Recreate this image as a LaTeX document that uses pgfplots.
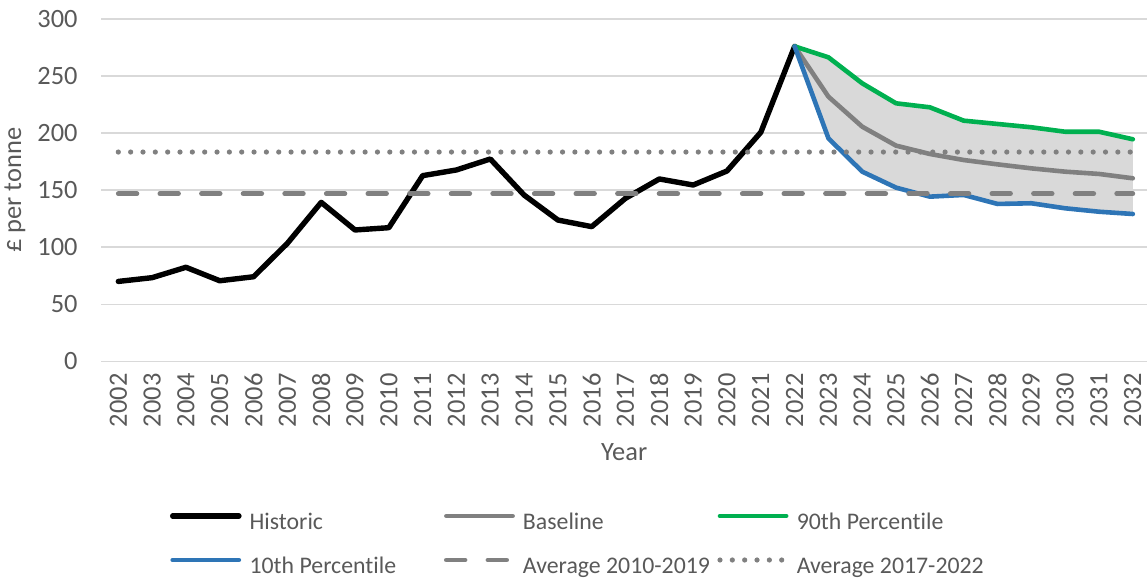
\documentclass[border=0pt]{standalone}
\usepackage{fontspec}
\setmainfont{Carlito}[Ligatures=NoCommon]
\usepackage{pgfplots}
\pgfplotsset{compat=1.18}
\usepgfplotslibrary{fillbetween}
\definecolor{txt}{HTML}{595959}
\definecolor{gridc}{HTML}{D9D9D9}
\definecolor{fillc}{HTML}{D9D9D9}
\definecolor{grayl}{HTML}{808080}
\definecolor{greenl}{HTML}{00B050}
\definecolor{bluel}{HTML}{2E75B6}
\newcommand{\lb}[1]{\makebox[97.2pt][l]{#1}}
\begin{document}
\begin{tikzpicture}
\begin{axis}[
  scale only axis, width=522.8pt, height=171.15pt,
  at={(0pt,0pt)}, anchor=south west,
  xmin=2001.5, xmax=2032.42, ymin=0, ymax=300,
  xtick={2002,...,2032}, ytick={0,50,...,300},
  axis line style={draw=none}, major tick length=0pt,
  ymajorgrids, grid style={gridc, line width=0.75pt},
  /pgf/number format/assume math mode=true,
  /pgf/number format/1000 sep={},
  tick label style={font=\fontsize{13.2}{14}\selectfont, text=txt},
  xticklabel style={yshift=-5.9pt, rotate=90, anchor=east, inner sep=0pt},
  yticklabel style={anchor=east, inner sep=0pt, xshift=-11.7pt},
  xlabel={Year}, ylabel={£ per tonne},
  every axis x label/.style={at={(axis description cs:0.5,0)}, anchor=center, yshift=-45.3pt, font=\fontsize{13.2}{14}\selectfont, text=txt},
  every axis y label/.style={at={(axis description cs:0,0.5)}, xshift=-43.2pt, rotate=90, anchor=center, font=\fontsize{13.2}{14}\selectfont, text=txt},
  legend columns=3,
  legend style={draw=none, fill=none, inner sep=0pt, outer sep=0pt,
    at={(axis description cs:0,0)}, anchor=north west, xshift=34.3pt, yshift=-75.65pt,
    font=\fontsize{11.9}{13}\selectfont, text=txt,
    nodes={inner sep=0pt, text height=8.5pt, text depth=2.5pt},
    row sep=11pt,
    /tikz/every odd column/.append style={column sep=4pt},
    /tikz/every even column/.append style={column sep=0pt}},
  legend cell align=left,
  legend image code/.code={\draw[#1] (1.2pt,3.8pt) -- (34.3pt,3.8pt);},
  every axis plot/.append style={line join=round, line cap=round},
]
% fill band
\addplot[name path=up, draw=none, forget plot] coordinates {
(2022,276) (2023,266.4) (2024,243.6) (2025,226.1) (2026,222.6) (2027,210.9) (2028,208) (2029,205.1) (2030,201.2) (2031,201.2) (2032,194.6)};
\addplot[name path=lo, draw=none, forget plot] coordinates {
(2022,276) (2023,195.4) (2024,166.2) (2025,152.2) (2026,144.3) (2027,145.8) (2028,137.9) (2029,138.5) (2030,134.1) (2031,131.1) (2032,129.1)};
\addplot[fillc, draw=none, forget plot] fill between[of=up and lo];
% Historic
\addplot[black, line width=2.7pt] coordinates {
(2002,70) (2003,73.3) (2004,82.4) (2005,70.6) (2006,74.1) (2007,103.4) (2008,139.3) (2009,115.1) (2010,117.1) (2011,162.7) (2012,167.7) (2013,177.3) (2014,145.7) (2015,123.8) (2016,118) (2017,142.9) (2018,159.8) (2019,154.5) (2020,166.8) (2021,200.7) (2022,276)};
\addlegendentry{\lb{Historic}}
% Baseline
\addplot[grayl, line width=2.3pt] coordinates {
(2022,276) (2023,231.9) (2024,205.6) (2025,189) (2026,181.7) (2027,176.4) (2028,172.6) (2029,169.1) (2030,166.2) (2031,164.2) (2032,160.4)};
\addlegendentry{\lb{Baseline}}
% 90th
\addplot[greenl, line width=2.3pt] coordinates {
(2022,276) (2023,266.4) (2024,243.6) (2025,226.1) (2026,222.6) (2027,210.9) (2028,208) (2029,205.1) (2030,201.2) (2031,201.2) (2032,194.6)};
\addlegendentry{\lb{90th Percentile}}
% 10th
\addplot[bluel, line width=2.3pt] coordinates {
(2022,276) (2023,195.4) (2024,166.2) (2025,152.2) (2026,144.3) (2027,145.8) (2028,137.9) (2029,138.5) (2030,134.1) (2031,131.1) (2032,129.1)};
\addlegendentry{\lb{10th Percentile}}
% Average 2010-2019
\addplot[grayl, line width=2.4pt, dash pattern=on 9.3pt off 11.5pt] coordinates {(2002,146.9) (2032,146.9)};
\addlegendentry{\lb{Average 2010-2019}}
% Average 2017-2022
\addplot[grayl, line width=2.6pt, dash pattern=on 0pt off 6.17pt] coordinates {(2002,183.4) (2032,183.4)};
\addlegendentry{\lb{Average 2017-2022}}
\end{axis}
\pgfresetboundingbox
\path[use as bounding box] (-50.7pt,-111.35pt) rectangle (522.8pt,180.65pt);
\end{tikzpicture}
\end{document}
